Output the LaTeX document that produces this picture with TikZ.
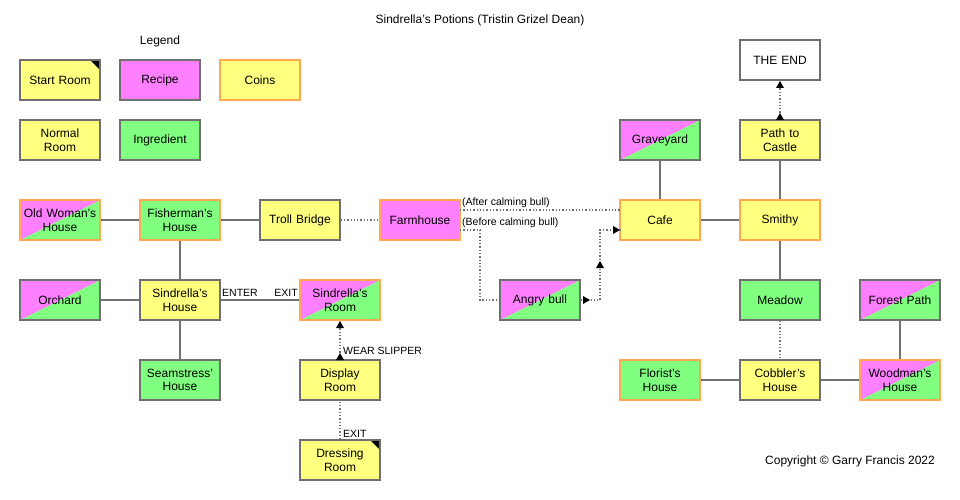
\documentclass[tikz,border=0pt]{standalone}
\usepackage{fontspec}
\setmainfont{Liberation Sans}
\usetikzlibrary{arrows.meta}
\definecolor{ryel}{HTML}{FFFF80}
\definecolor{rmag}{HTML}{FF80FF}
\definecolor{rgrn}{HTML}{80FF80}
\definecolor{rgray}{HTML}{707070}
\definecolor{rorg}{HTML}{FFA850}
\begin{document}
\begin{tikzpicture}[x=1pt,y=-1pt,
 room/.style={draw=rgray,line width=1.3pt,minimum width=80pt,minimum height=40pt,inner sep=1pt,align=center,font=\fontsize{12}{13.5}\selectfont,text width=76pt},
 norm/.style={room,fill=ryel},
 ingr/.style={room,fill=rgrn},
 reci/.style={room,fill=rmag},
 split/.style={room,path picture={\fill[rgrn] (path picture bounding box.south west) -- (path picture bounding box.north east) -- (path picture bounding box.south east) -- cycle;\fill[rmag] (path picture bounding box.south west) -- (path picture bounding box.north east) -- (path picture bounding box.north west) -- cycle;}},
 coin/.style={draw=rorg},
 start/.style={path picture={\fill[black] ([xshift=-10pt]path picture bounding box.north east) -- (path picture bounding box.north east) -- ([yshift=-10pt]path picture bounding box.north east) -- cycle;}},
 ln/.style={draw=rgray,line width=1.3pt},
 dt/.style={draw=rgray,line width=1.3pt,dotted},
 lbl/.style={font=\fontsize{10.5}{12}\selectfont,inner sep=1pt},
 tri/.style={fill=black}]
\useasboundingbox (0,0) rectangle (960,500);
\fill[white] (0,0) rectangle (960,500);
\node[font=\fontsize{12}{13}\selectfont] (title) at (480,20) {Sindrella's Potions (Tristin Grizel Dean)};
\node[font=\fontsize{12}{13}\selectfont] (leg) at (160,41) {Legend};
\node[norm,start] (lstart) at (60,80) {Start Room};
\node[reci] (lrec) at (160,80) {Recipe};
\node[norm,coin] (lcoin) at (260,80) {Coins};
\node[norm] (lnorm) at (60,140) {Normal\\Room};
\node[ingr] (ling) at (160,140) {Ingredient};
\node[font=\fontsize{12}{13}\selectfont] (copy) at (850,461) {Copyright © Garry Francis 2022};

\node[split,coin] (old) at (60,220) {Old Woman's\\House};
\node[ingr,coin] (fish) at (180,220) {Fisherman's\\House};
\node[norm] (troll) at (300,220) {Troll Bridge};
\node[reci,coin] (farm) at (420,220) {Farmhouse};
\node[split] (bull) at (540,300) {Angry bull};
\node[norm,coin] (cafe) at (660,220) {Cafe};
\node[norm,coin] (smithy) at (780,220) {Smithy};
\node[split] (grave) at (660,140) {Graveyard};
\node[norm] (path) at (780,140) {Path to\\Castle};
\node[room,fill=white] (end) at (780,60) {THE END};
\node[ingr] (meadow) at (780,300) {Meadow};
\node[split] (forest) at (900,300) {Forest Path};
\node[ingr,coin] (florist) at (660,380) {Florist's\\House};
\node[norm] (cobbler) at (780,380) {Cobbler's\\House};
\node[split,coin] (wood) at (900,380) {Woodman's\\House};
\node[split] (orch) at (60,300) {Orchard};
\node[norm] (shouse) at (180,300) {Sindrella's\\House};
\node[ingr] (seam) at (180,380) {Seamstress'\\House};
\node[split,coin] (sroom) at (340,300) {Sindrella's\\Room};
\node[norm] (disp) at (340,380) {Display\\Room};
\node[norm,start] (dress) at (340,460) {Dressing\\Room};

\draw[ln] (old) -- (fish);
\draw[ln] (fish) -- (troll);
\draw[dt] (troll) -- (farm);
\draw[ln] (fish) -- (shouse);
\draw[ln] (orch) -- (shouse);
\draw[ln] (shouse) -- (seam);
\draw[ln] (shouse) -- (sroom);
\node[lbl,anchor=south west] (enter) at (221,298) {ENTER};
\node[lbl,anchor=south east] (exit1) at (299,298) {EXIT};
\draw[dt] (disp) -- (sroom);
\fill[tri] (336,360) -- (344,360) -- (340,353) -- cycle;
\fill[tri] (336,328) -- (344,328) -- (340,321) -- cycle;
\node[lbl,anchor=west] (wear) at (342,351) {WEAR SLIPPER};
\draw[dt] (dress) -- (disp);
\node[lbl,anchor=south west] (exit2) at (342,439) {EXIT};

\coordinate (fa) at (460,210);
\coordinate (ca) at (620,210);
\draw[dt] (fa) -- (ca);
\node[lbl,anchor=south west] (after) at (461,209) {(After calming bull)};
\node[lbl,anchor=south west] (before) at (461,229) {(Before calming bull)};
\coordinate (fb) at (460,230);
\coordinate (b1) at (480,230);
\coordinate (b2) at (480,300);
\draw[dt] (fb) -- (b1) -- (b2) -- (bull.west);
\coordinate (c1) at (600,300);
\coordinate (c2) at (600,230);
\coordinate (cb) at (620,230);
\draw[dt] (bull.east) -- (c1) -- (c2) -- (cb);
\fill[tri] (583,296) -- (583,304) -- (590,300) -- cycle;
\fill[tri] (596,268) -- (604,268) -- (600,261) -- cycle;
\fill[tri] (613,226) -- (613,234) -- (620,230) -- cycle;

\draw[ln] (grave) -- (cafe);
\draw[ln] (cafe) -- (smithy);
\draw[ln] (smithy) -- (path);
\draw[ln] (smithy) -- (meadow);
\draw[dt] (meadow) -- (cobbler);
\draw[ln] (florist) -- (cobbler);
\draw[ln] (cobbler) -- (wood);
\draw[ln] (forest) -- (wood);
\draw[dt] (path) -- (end);
\fill[tri] (776,120) -- (784,120) -- (780,113) -- cycle;
\fill[tri] (776,88) -- (784,88) -- (780,81) -- cycle;
\end{tikzpicture}
\end{document}
